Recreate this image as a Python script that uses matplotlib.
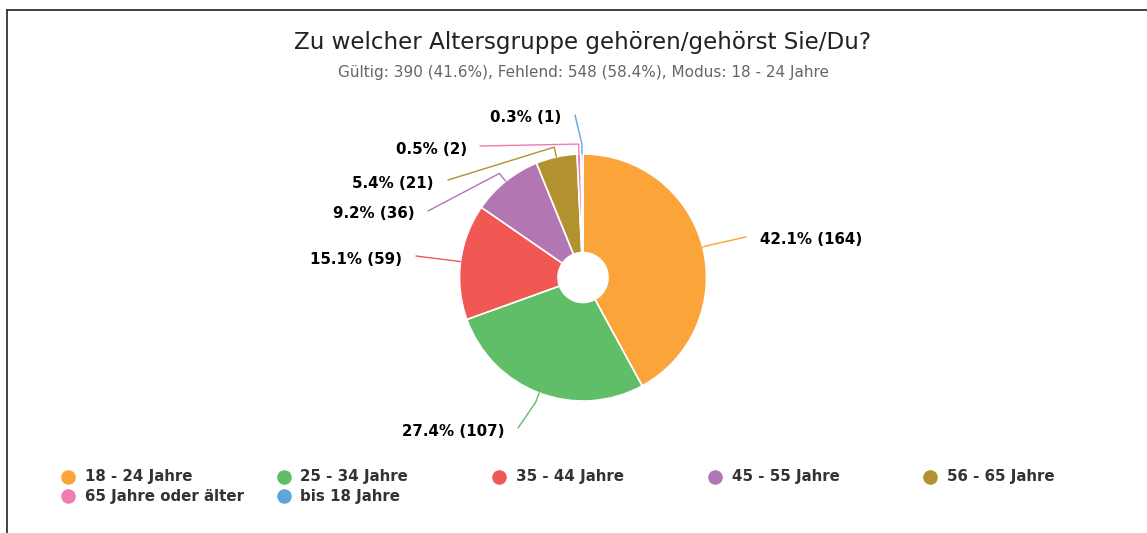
import numpy as np
import matplotlib
matplotlib.use("Agg")
import matplotlib.pyplot as plt

# data
categories = ["18 - 24 Jahre", "25 - 34 Jahre", "35 - 44 Jahre", "45 - 55 Jahre",
              "56 - 65 Jahre", "65 Jahre oder älter", "bis 18 Jahre"]
counts = [164, 107, 59, 36, 21, 2, 1]
percents = [42.1, 27.4, 15.1, 9.2, 5.4, 0.5, 0.3]
colors = ["#FAA43A", "#60BD68", "#F15854", "#B276B2", "#B2912F", "#F17CB0", "#5DA5DA"]

title = "Zu welcher Altersgruppe gehören/gehörst Sie/Du?"
subtitle = "Gültig: 390 (41.6%), Fehlend: 548 (58.4%), Modus: 18 - 24 Jahre"

W, H = 1147, 533
fig = plt.figure(figsize=(W / 100, H / 100), dpi=100)
ax = fig.add_axes([0, 0, 1, 1])

cx, cy = 583, 277.5
R, r_in = 123.5, 25

# y axis is inverted (pixel coords), so startangle -90 + counterclock gives 12 o'clock clockwise
ax.pie(counts, colors=colors, startangle=-90, counterclock=True, center=(cx, cy), radius=R,
       wedgeprops=dict(width=R - r_in, edgecolor="white", linewidth=1.2))
ax.set_xlim(0, W)
ax.set_ylim(H, 0)
ax.set_aspect("equal")
ax.axis("off")

# label anchor points (end of leader line) and text side
label_ends = [(746, 237), (518, 428), (416, 256), (428, 211), (448, 180), (480, 146), (575, 115)]
text_pos = [(760, 240, "left"), (505, 432, "right"), (402, 259, "right"), (415, 214, "right"),
            (434, 183, "right"), (467, 150, "right"), (561, 118, "right")]

total = sum(counts)
cum = np.cumsum([0] + counts)
for i, c in enumerate(counts):
    mid = (cum[i] + cum[i + 1]) / 2 / total
    th = np.deg2rad(-90 + 360 * mid)
    ex, ey = cx + R * np.cos(th), cy + R * np.sin(th)
    bx, by = cx + (R + 10) * np.cos(th), cy + (R + 10) * np.sin(th)
    lx, ly = label_ends[i]
    ax.plot([ex, bx, lx], [ey, by, ly], color=colors[i], lw=1, solid_capstyle="round")
    tx, ty, ha = text_pos[i]
    ax.text(tx, ty, f"{percents[i]}% ({c})", ha=ha, va="center", fontsize=10.8,
            fontweight="bold", color="black")

ax.text(583, 43, title, ha="center", va="center", fontsize=16.6, color="#222222")
ax.text(583, 73, subtitle, ha="center", va="center", fontsize=11, color="#666666")

# legend
for i, cat in enumerate(categories):
    col, row = i % 5, i // 5
    x = 68 + col * 215.5
    y = 477 + row * 19
    ax.scatter([x], [y], s=110, color=colors[i], linewidths=0)
    ax.text(x + 17, y, cat, ha="left", va="center", fontsize=10.8, fontweight="bold",
            color="#333333")

# frame lines on top and left
ax.plot([7, W], [10, 10], color="#333333", lw=1.3)
ax.plot([7, 7], [10, H], color="#333333", lw=1.3)

fig.savefig("out.png", dpi=100)
